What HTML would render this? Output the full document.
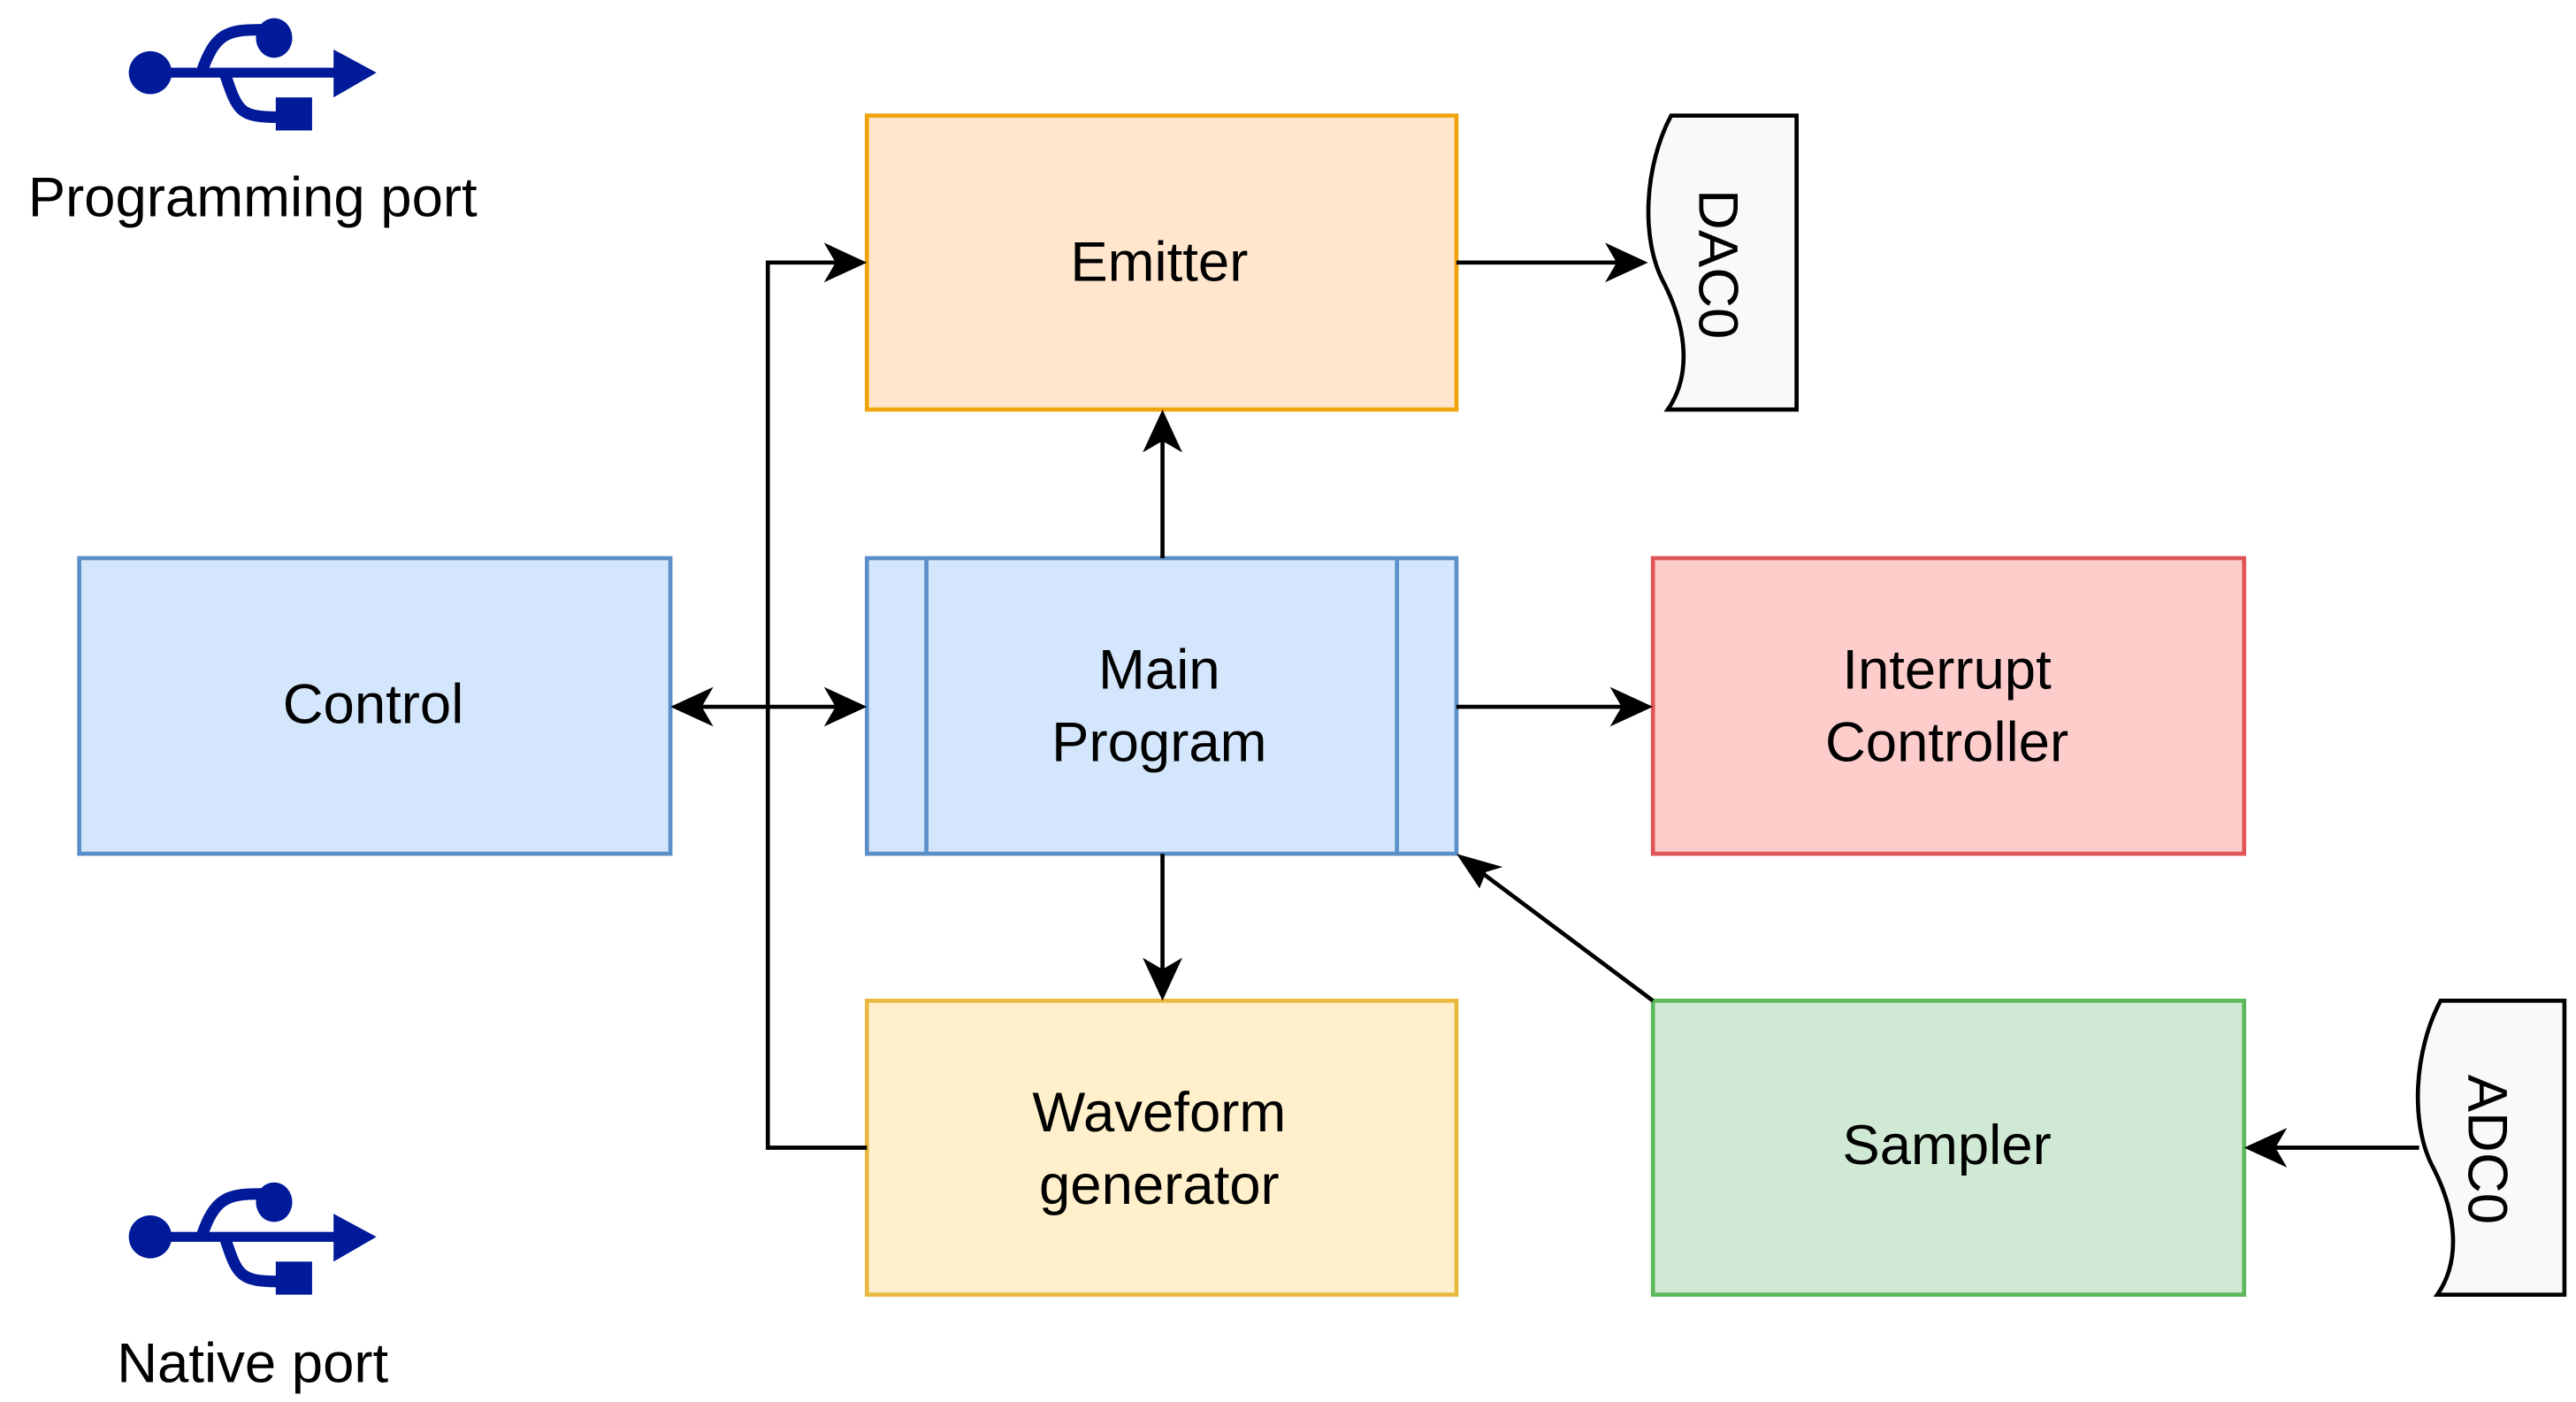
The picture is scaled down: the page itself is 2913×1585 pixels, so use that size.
<!DOCTYPE html>
<html><head><meta charset="utf-8"><style>html,body{margin:0;padding:0;background:#fff}svg{display:block}</style></head>
<body>
<svg width="2913" height="1585" viewBox="0 0 1560 849" preserveAspectRatio="none" xmlns="http://www.w3.org/2000/svg" font-family="Liberation Sans, sans-serif" font-size="34" text-anchor="middle">
<defs>
<marker id="a" markerWidth="12" markerHeight="12" refX="11" refY="6" orient="auto" markerUnits="userSpaceOnUse" viewBox="0 0 12 12">
</marker>
</defs>
<g id="usb" fill="#001a99">
<ellipse cx="91" cy="44" rx="13" ry="13"/>
<rect x="91" y="41" width="115" height="6"/>
<polygon points="202,30 228,44 202,59"/>
<path d="M122,44 C130,20 138,18 158,18" stroke="#001a99" stroke-width="7" fill="none"/>
<ellipse cx="166" cy="23" rx="11" ry="12"/>
<path d="M136,44 C144,68 145,71 170,71" stroke="#001a99" stroke-width="7" fill="none"/>
<rect x="167" y="59" width="22" height="20"/>
</g>
<use href="#usb" transform="translate(0,705)"/>
<text x="153" y="131">Programming port</text>
<text x="153" y="837">Native port</text>

<g stroke-width="2.5">
<rect x="525" y="70" width="357" height="178" fill="#ffe6cc" stroke="#f0a30a"/>
<rect x="48" y="338" width="358" height="179" fill="#d4e6fb" stroke="#5b8fc9"/>
<rect x="525" y="338" width="357" height="179" fill="#d4e6fb" stroke="#5b8fc9"/>
<line x1="561" y1="338" x2="561" y2="517" stroke="#5b8fc9"/>
<line x1="846" y1="338" x2="846" y2="517" stroke="#5b8fc9"/>
<rect x="1001" y="338" width="358" height="179" fill="#fdcdcc" stroke="#e05555"/>
<rect x="525" y="606" width="357" height="178" fill="#fff0cb" stroke="#e8b840"/>
<rect x="1001" y="606" width="358" height="178" fill="#d0e9d4" stroke="#5cb85c"/>
<path d="M1012,70 C996,100 993,145 1008,172 C1022,200 1024,228 1010,248 L1088,248 L1088,70 Z" fill="#f9f9f9" stroke="#000"/>
<path d="M1478,606 C1462,636 1459,681 1474,708 C1488,736 1490,764 1476,784 L1553,784 L1553,606 Z" fill="#f9f9f9" stroke="#000"/>
</g>
<text x="702" y="170">Emitter</text>
<text x="226" y="438">Control</text>
<text x="702" y="417">Main</text>
<text x="702" y="461">Program</text>
<text x="1179" y="417">Interrupt</text>
<text x="1179" y="461">Controller</text>
<text x="702" y="685">Waveform</text>
<text x="702" y="729">generator</text>
<text x="1179" y="705">Sampler</text>
<text transform="translate(1041,160) rotate(90)" y="12">DAC0</text>
<text transform="translate(1507,696) rotate(90)" y="12">ADC0</text>

<g stroke="#000" stroke-width="2.5" fill="none">
<line x1="882" y1="159" x2="990" y2="159"/>
<line x1="704" y1="338" x2="704" y2="256"/>
<line x1="882" y1="428" x2="993" y2="428"/>
<line x1="704" y1="517" x2="704" y2="598"/>
<line x1="1001" y1="606" x2="890" y2="523"/>
<line x1="1465" y1="695" x2="1367" y2="695"/>
<line x1="414" y1="428" x2="517" y2="428"/>
<polyline points="525,695 465,695 465,159 517,159"/>
</g>
<g fill="#000">
<polygon points="998,159 972,147 979,159 972,171"/>
<polygon points="704,248 692,274 704,267 716,274"/>
<polygon points="1001,428 975,416 982,428 975,440"/>
<polygon points="704,606 692,580 704,587 716,580"/>
<polygon points="882,517 910,525 900,528 896,538"/>
<polygon points="1359,695 1385,683 1378,695 1385,707"/>
<polygon points="406,428 432,416 425,428 432,440"/>
<polygon points="525,428 499,416 506,428 499,440"/>
<polygon points="525,159 499,147 506,159 499,171"/>
</g>
</svg>
</body></html>
